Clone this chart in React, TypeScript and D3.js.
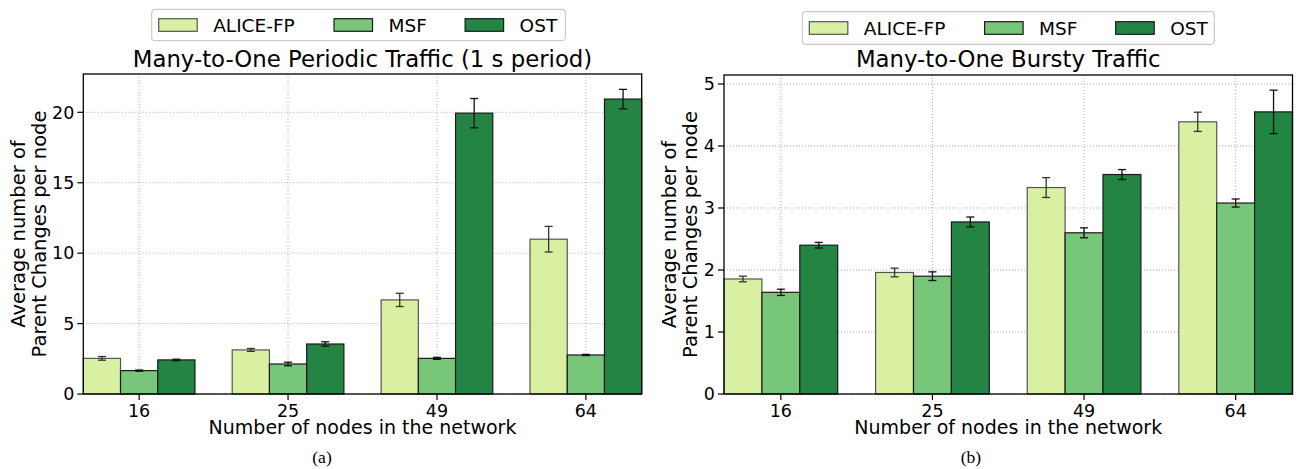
import React from "react";
import * as d3 from "d3";

// ---------- data ----------
const categories = ["16", "25", "49", "64"];
const seriesNames = ["ALICE-FP", "MSF", "OST"];
const seriesColors = ["#d9f0a3", "#78c679", "#238443"];

const periodicAlice = [2.53, 3.13, 6.68, 10.99];
const periodicAliceErr = [0.13, 0.1, 0.47, 0.91];
const periodicMsf = [1.66, 2.13, 2.53, 2.77];
const periodicMsfErr = [0.04, 0.13, 0.07, 0.04];
const periodicOst = [2.42, 3.55, 19.94, 20.94];
const periodicOstErr = [0.05, 0.16, 1.04, 0.69];

const burstyAlice = [1.855, 1.96, 3.33, 4.39];
const burstyAliceErr = [0.045, 0.07, 0.16, 0.155];
const burstyMsf = [1.64, 1.9, 2.6, 3.08];
const burstyMsfErr = [0.05, 0.07, 0.08, 0.065];
const burstyOst = [2.4, 2.775, 3.54, 4.55];
const burstyOstErr = [0.045, 0.08, 0.08, 0.35];

const periodicTicks = [0, 5, 10, 15, 20];
const burstyTicks = [0, 1, 2, 3, 4, 5];

const periodicTitle = "Many-to-One Periodic Traffic (1 s period)";
const burstyTitle = "Many-to-One Bursty Traffic";
const xLabel = "Number of nodes in the network";
const yLabel1 = "Average number of";
const yLabel2 = "Parent Changes per node";

// ---------- layout ----------
const W = 1299;
const H = 469;
const FONT = "'DejaVu Sans', sans-serif";
const LEGEND_PATCH_OFFSETS = [7, 182.3, 313.4];

type PanelCfg = {
  title: string;
  values: number[][];
  errors: number[][];
  ticks: number[];
  yMax: number;
  x0: number;
  x1: number;
  yTop: number;
  yBottom: number;
  ylabelX: number;
  legend: { x: number; y: number; w: number; h: number };
  caption: string;
  captionX: number;
};

const panels: PanelCfg[] = [
  {
    title: periodicTitle,
    values: [periodicAlice, periodicMsf, periodicOst],
    errors: [periodicAliceErr, periodicMsfErr, periodicOstErr],
    ticks: periodicTicks,
    yMax: 22.72,
    x0: 83.3,
    x1: 641.7,
    yTop: 74,
    yBottom: 394,
    ylabelX: 25.3,
    legend: { x: 151.7, y: 9.3, w: 413.7, h: 31.4 },
    caption: "(a)",
    captionX: 322,
  },
  {
    title: burstyTitle,
    values: [burstyAlice, burstyMsf, burstyOst],
    errors: [burstyAliceErr, burstyMsfErr, burstyOstErr],
    ticks: burstyTicks,
    yMax: 5.145,
    x0: 724,
    x1: 1292.5,
    yTop: 75,
    yBottom: 394,
    ylabelX: 675.5,
    legend: { x: 802.3, y: 11.7, w: 412, h: 32.6 },
    caption: "(b)",
    captionX: 971,
  },
];

const BAR_W = 0.25;

function Panel({ cfg }: { cfg: PanelCfg }) {
  const x = d3.scaleLinear().domain([-0.375, 3.375]).range([cfg.x0, cfg.x1]);
  const y = d3.scaleLinear().domain([0, cfg.yMax]).range([cfg.yBottom, cfg.yTop]);
  const unit = x(1) - x(0);
  const bw = unit * BAR_W;
  const cx = (cfg.x0 + cfg.x1) / 2;
  const cy = (cfg.yTop + cfg.yBottom) / 2;
  const lg = cfg.legend;
  const edgeColors = ["#555", "#1a1a1a", "#1a1a1a"];
  const errColors = ["#333", "#111", "#111"];

  return (
    <g>
      {/* grid */}
      {categories.map((c, i) => (
        <line
          key={"gx" + c}
          x1={x(i)}
          x2={x(i)}
          y1={cfg.yTop}
          y2={cfg.yBottom}
          stroke="#b0b0b0"
          strokeWidth={1}
          strokeDasharray="1,2"
        />
      ))}
      {cfg.ticks.map((t) => (
        <line
          key={"gy" + t}
          x1={cfg.x0}
          x2={cfg.x1}
          y1={y(t)}
          y2={y(t)}
          stroke="#b0b0b0"
          strokeWidth={1}
          strokeDasharray="1,2"
        />
      ))}
      {/* bars */}
      {cfg.values.map((vals, s) =>
        vals.map((v, i) => {
          const center = x(i + (s - 1) * BAR_W);
          return (
            <rect
              key={"b" + s + "-" + i}
              x={center - bw / 2}
              y={y(v)}
              width={bw}
              height={y(0) - y(v)}
              fill={seriesColors[s]}
              stroke={edgeColors[s]}
              strokeWidth={1.2}
            />
          );
        })
      )}
      {/* error bars */}
      {cfg.values.map((vals, s) =>
        vals.map((v, i) => {
          const center = x(i + (s - 1) * BAR_W);
          const e = cfg.errors[s][i];
          const yHi = y(v + e);
          const yLo = y(v - e);
          return (
            <g key={"e" + s + "-" + i} stroke={errColors[s]} strokeWidth={1.3}>
              <line x1={center} x2={center} y1={yHi} y2={yLo} />
              <line x1={center - 4} x2={center + 4} y1={yHi} y2={yHi} />
              <line x1={center - 4} x2={center + 4} y1={yLo} y2={yLo} />
            </g>
          );
        })
      )}
      {/* frame */}
      <rect
        x={cfg.x0}
        y={cfg.yTop}
        width={cfg.x1 - cfg.x0}
        height={cfg.yBottom - cfg.yTop}
        fill="none"
        stroke="#000"
        strokeWidth={1.3}
      />
      {/* y ticks */}
      {cfg.ticks.map((t) => (
        <g key={"yt" + t}>
          <line x1={cfg.x0 - 6} x2={cfg.x0} y1={y(t)} y2={y(t)} stroke="#000" strokeWidth={1.2} />
          <text
            x={cfg.x0 - 9}
            y={y(t)}
            dy="0.36em"
            textAnchor="end"
            fontFamily={FONT}
            fontSize={17.5}
            fill="#000"
          >
            {t}
          </text>
        </g>
      ))}
      {/* x ticks */}
      {categories.map((c, i) => (
        <g key={"xt" + c}>
          <line x1={x(i)} x2={x(i)} y1={cfg.yBottom} y2={cfg.yBottom + 6} stroke="#000" strokeWidth={1.2} />
          <text
            x={x(i)}
            y={cfg.yBottom + 22.5}
            textAnchor="middle"
            fontFamily={FONT}
            fontSize={17.5}
            fill="#000"
          >
            {c}
          </text>
        </g>
      ))}
      {/* x label */}
      <text x={cx} y={433.5} textAnchor="middle" fontFamily={FONT} fontSize={19} fill="#000">
        {xLabel}
      </text>
      {/* y label */}
      <text
        transform={`translate(${cfg.ylabelX},${cy}) rotate(-90)`}
        textAnchor="middle"
        fontFamily={FONT}
        fontSize={19.5}
        fill="#000"
      >
        {yLabel1}
      </text>
      <text
        transform={`translate(${cfg.ylabelX + 21},${cy}) rotate(-90)`}
        textAnchor="middle"
        fontFamily={FONT}
        fontSize={19.5}
        fill="#000"
      >
        {yLabel2}
      </text>
      {/* title */}
      <text x={cx} y={66.7} textAnchor="middle" fontFamily={FONT} fontSize={22.8} fill="#000">
        {cfg.title}
      </text>
      {/* legend */}
      <rect
        x={lg.x}
        y={lg.y}
        width={lg.w}
        height={lg.h}
        rx={3.5}
        fill="#fff"
        fillOpacity={0.85}
        stroke="#cccccc"
        strokeWidth={1.2}
      />
      {seriesNames.map((n, s) => {
        const px = lg.x + LEGEND_PATCH_OFFSETS[s];
        const py = lg.y + lg.h / 2;
        return (
          <g key={"lg" + n}>
            <rect
              x={px}
              y={py - 6.3}
              width={38.5}
              height={12.6}
              fill={seriesColors[s]}
              stroke={edgeColors[s]}
              strokeWidth={1.2}
            />
            <text x={px + 54.5} y={py} dy="0.36em" fontFamily={FONT} fontSize={18.5} fill="#000">
              {n}
            </text>
          </g>
        );
      })}
      {/* caption */}
      <text
        x={cfg.captionX}
        y={462.7}
        textAnchor="middle"
        fontFamily="'Liberation Serif', 'Times New Roman', serif"
        fontSize={17.5}
        fill="#000"
      >
        {cfg.caption}
      </text>
    </g>
  );
}

export default function App() {
  return (
    <div style={{ position: "absolute", left: 0, top: 0 }}>
      <svg width={W} height={H} viewBox={`0 0 ${W} ${H}`} style={{ display: "block", background: "#fff" }}>
        {panels.map((p, i) => (
          <Panel key={i} cfg={p} />
        ))}
      </svg>
    </div>
  );
}
